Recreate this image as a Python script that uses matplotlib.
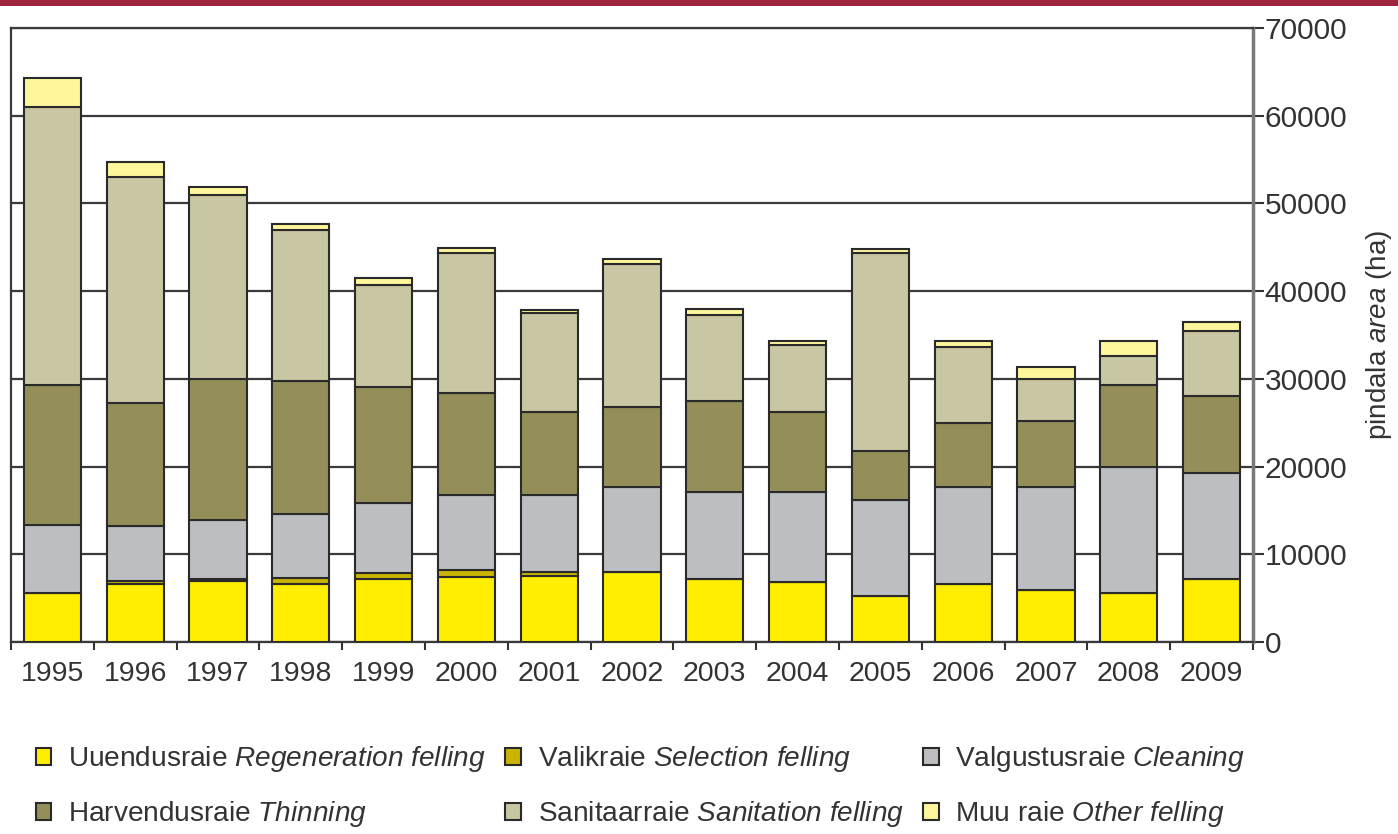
import matplotlib
matplotlib.use("Agg")
import matplotlib.pyplot as plt
from matplotlib.patches import Rectangle, Patch
import numpy as np

years = ["1995", "1996", "1997", "1998", "1999", "2000", "2001", "2002",
         "2003", "2004", "2005", "2006", "2007", "2008", "2009"]

regeneration = [5600, 6600, 6900, 6600, 7150, 7450, 7550, 8000,
                7150, 6800, 5300, 6600, 5900, 5600, 7150]
selection = [0, 300, 300, 650, 750, 750, 450, 0,
             0, 0, 0, 0, 0, 0, 0]
cleaning = [7750, 6350, 6700, 7350, 7950, 8550, 8750, 9700,
            9900, 10250, 10900, 11100, 11800, 14300, 12150]
thinning = [15950, 13980, 16100, 15100, 13200, 11690, 9520, 9140,
            10450, 9150, 5600, 7250, 7550, 9400, 8750]
sanitation = [31650, 25770, 21000, 17250, 11650, 15860, 11230, 16260,
              9800, 7650, 22500, 8650, 4750, 3350, 7400]
other = [3350, 1700, 900, 700, 800, 600, 350, 550,
         700, 450, 550, 700, 1300, 1650, 1000]

labels_et = ["Uuendusraie", "Valikraie", "Valgustusraie",
             "Harvendusraie", "Sanitaarraie", "Muu raie"]
labels_en = ["Regeneration felling", "Selection felling", "Cleaning",
             "Thinning", "Sanitation felling", "Other felling"]
y_ticks = [0, 10000, 20000, 30000, 40000, 50000, 60000, 70000]

colors = ["#FFEE00", "#C9B400", "#BDBEC2", "#948F59", "#C9C6A3", "#FFF59B"]
edge = "#2A2A2A"

plt.rcParams["font.family"] = ["Liberation Sans", "DejaVu Sans"]
plt.rcParams["mathtext.fontset"] = "custom"
plt.rcParams["mathtext.rm"] = "Liberation Sans"
plt.rcParams["mathtext.it"] = "Liberation Sans:italic"

fig = plt.figure(figsize=(13.98, 8.34), dpi=100)
ax = fig.add_axes([11 / 1398, 1 - 642 / 834, (1253 - 11) / 1398, (642 - 28) / 834])

# top red band
fig.patches.append(Rectangle((0, 1 - 6 / 834), 1, 6 / 834, transform=fig.transFigure,
                             facecolor="#9E2440", edgecolor="none", zorder=10))

x = np.arange(len(years))
series = [regeneration, selection, cleaning, thinning, sanitation, other]
bottom = np.zeros(len(years))
handles = []
for vals, col, et, en in zip(series, colors, labels_et, labels_en):
    v = np.array(vals, dtype=float)
    ax.bar(x, v, width=0.69, bottom=bottom, color=col, edgecolor=edge,
           linewidth=1.5, zorder=3)
    bottom += v
    handles.append(Patch(facecolor=col, edgecolor=edge, linewidth=1.5,
                         label=et + " $\\it{" + en.replace(" ", "\\ ") + "}$"))

ax.set_xlim(-0.5, len(years) - 0.5)
ax.set_ylim(0, 70000)

ax.yaxis.tick_right()
ax.yaxis.set_label_position("right")
ax.set_yticks(y_ticks)
ax.set_yticklabels([str(t) for t in y_ticks])
ax.tick_params(axis="y", direction="out", length=8, width=1.5, colors="#333333",
               labelsize=21.5, pad=0.5)
ax.set_ylabel("pindala $\\it{area}$ (ha)", fontsize=20, color="#333333", labelpad=12)

ax.set_xticks(x)
ax.set_xticklabels(years)
ax.set_xticks(np.arange(-0.5, len(years), 1.0), minor=True)
ax.tick_params(axis="x", which="major", length=0, labelsize=20.5, colors="#333333", pad=14)
ax.tick_params(axis="x", which="minor", length=6, width=1.5, color="#333333", direction="out")

ax.grid(axis="y", color="#3A3A3A", linewidth=1.6, zorder=0)
ax.set_axisbelow(True)
for side in ["left", "top", "bottom"]:
    ax.spines[side].set_color("#3A3A3A")
    ax.spines[side].set_linewidth(1.6)
ax.spines["right"].set_color("#7A7A7A")
ax.spines["right"].set_linewidth(2.5)

order = [0, 3, 1, 4, 2, 5]
leg = fig.legend([handles[i] for i in order], [handles[i].get_label() for i in order],
                 ncol=3, loc="upper left", bbox_to_anchor=(36 / 1398, 1 - 744 / 834),
                 frameon=False, fontsize=20.2, handlelength=0.55, handleheight=0.55,
                 handletextpad=0.6, columnspacing=0.7, labelspacing=0.9,
                 borderpad=0, borderaxespad=0)
for t in leg.get_texts():
    t.set_color("#333333")

fig.savefig("out.png", dpi=100)
